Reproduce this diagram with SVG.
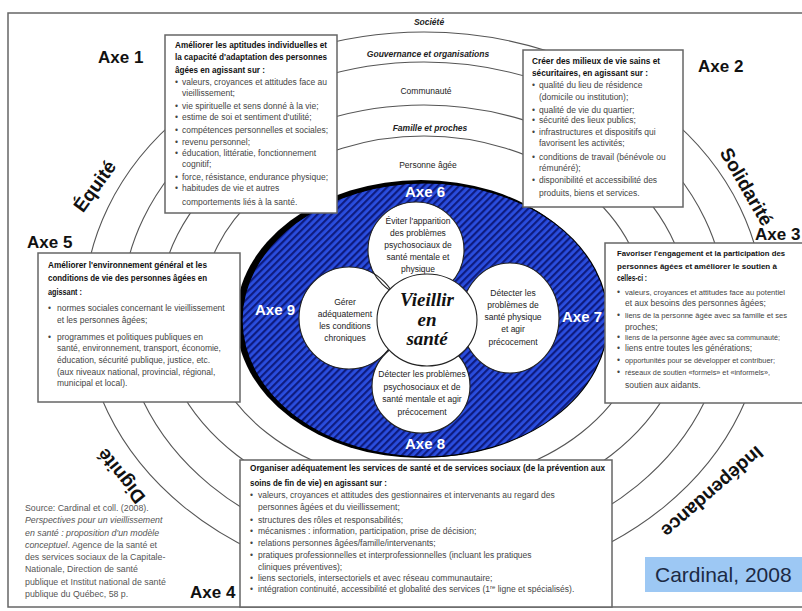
<svg xmlns="http://www.w3.org/2000/svg" width="802" height="611" viewBox="0 0 802 611">
<defs>
<pattern id="hatch" width="5" height="5" patternUnits="userSpaceOnUse" patternTransform="rotate(45)">
<rect width="5" height="5" fill="#2a4ee0"/><rect width="2.2" height="5" fill="#0e1b7e"/>
</pattern>
<style>
.frame{fill:none;stroke:#666;stroke-width:1.5}
.ring{fill:none;stroke:#555;stroke-width:1.1}
.box{fill:#fff;stroke:#666;stroke-width:1.5}
.t{font-family:"Liberation Sans",Arial,sans-serif;font-size:8.5px;fill:#444}
.tb{font-weight:bold;fill:#111}
.sm{font-size:7.5px}
.src{font-family:"Liberation Sans",Arial,sans-serif;font-size:8.8px;fill:#555}
.it{font-style:italic}
.axe{font-family:"Liberation Sans",Arial,sans-serif;font-weight:bold;font-size:17px;fill:#111}
.axew{font-family:"Liberation Sans",Arial,sans-serif;font-weight:bold;font-size:15px;fill:#fff;text-anchor:middle}
.val{font-family:"Liberation Sans",Arial,sans-serif;font-weight:bold;font-size:19px;fill:#111;text-anchor:middle}
.lvl{font-family:"Liberation Sans",Arial,sans-serif;font-size:8.5px;fill:#222;text-anchor:middle}
.ct{font-family:"Liberation Sans",Arial,sans-serif;font-size:8.5px;fill:#222;text-anchor:middle}
.circ{fill:#fff}
.circs{fill:none;stroke:#222;stroke-width:1.1}
</style>
</defs>
<rect width="802" height="611" fill="#fff"/>
<rect class="frame" x="8" y="13" width="810" height="594"/>

<g id="rings">
<ellipse class="ring" cx="424" cy="310" rx="340" ry="278"/>
<ellipse class="ring" cx="424" cy="310" rx="302" ry="248"/>
<ellipse class="ring" cx="424" cy="310" rx="265" ry="205"/>
<ellipse class="ring" cx="424" cy="310" rx="222" ry="174"/>
</g>

<g id="ring-labels">
<text class="lvl" x="429" y="25" font-weight="bold" font-style="italic">Société</text>
<text class="lvl" x="428" y="57" font-weight="bold" font-style="italic">Gouvernance et organisations</text>
<text class="lvl" x="426" y="94" font-size="9">Communauté</text>
<text class="lvl" x="430" y="131" font-weight="bold" font-style="italic">Famille et proches</text>
<text class="lvl" x="428" y="168" font-size="9">Personne âgée</text>
</g>

<g id="values">
<text class="val" transform="translate(100,190) rotate(-54)">Équité</text>
<text class="val" transform="translate(741,190) rotate(60)">Solidarité</text>
<text class="val" transform="translate(126,472) rotate(231)">Dignité</text>
<text class="val" font-size="16.5" transform="translate(708,487) rotate(139)">Indépendance</text>
</g>

<g id="blue-ring">
<ellipse cx="421" cy="319" rx="185" ry="139" fill="#000"/>
<ellipse cx="425" cy="320" rx="183" ry="137" fill="url(#hatch)" stroke="#000" stroke-width="1.2"/>
<text class="axew" x="425" y="197">Axe 6</text>
<text class="axew" x="582" y="322">Axe 7</text>
<text class="axew" x="425" y="449">Axe 8</text>
<text class="axew" x="275" y="315">Axe 9</text>
</g>

<g id="axe-circles">
<ellipse class="circ" cx="416" cy="250" rx="48" ry="48"/>
<ellipse class="circ" cx="349" cy="318" rx="50" ry="51"/>
<ellipse class="circ" cx="510" cy="318" rx="49" ry="55"/>
<ellipse class="circ" cx="421" cy="386" rx="49" ry="47"/>
<ellipse class="circs" cx="416" cy="250" rx="48" ry="48"/>
<ellipse class="circs" cx="349" cy="318" rx="50" ry="51"/>
<ellipse class="circs" cx="510" cy="318" rx="49" ry="55"/>
<ellipse class="circs" cx="421" cy="386" rx="49" ry="47"/>
</g>

<g id="axe6-circle">
<text class="ct" x="418" y="224">Éviter l'apparition</text>
<text class="ct" x="418" y="236">des problèmes</text>
<text class="ct" x="418" y="248">psychosociaux de</text>
<text class="ct" x="418" y="260">santé mentale et</text>
<text class="ct" x="418" y="272">physique</text>
</g>
<g id="axe9-circle">
<text class="ct" x="345" y="305">Gérer</text>
<text class="ct" x="345" y="317">adéquatement</text>
<text class="ct" x="345" y="329">les conditions</text>
<text class="ct" x="345" y="341">chroniques</text>
</g>
<g id="axe7-circle">
<text class="ct" x="513" y="296">Détecter les</text>
<text class="ct" x="513" y="308">problèmes de</text>
<text class="ct" x="513" y="320">santé physique</text>
<text class="ct" x="513" y="332">et agir</text>
<text class="ct" x="513" y="345">précocement</text>
</g>
<g id="axe8-circle">
<text class="ct" x="422" y="377">Détecter les problèmes</text>
<text class="ct" x="422" y="390">psychosociaux et de</text>
<text class="ct" x="422" y="402">santé mentale et agir</text>
<text class="ct" x="422" y="415">précocement</text>
</g>

<g id="center">
<ellipse cx="427" cy="320" rx="50" ry="46" fill="#fff" stroke="#222" stroke-width="1.1"/>
<text x="427" y="306" font-family="'Liberation Serif',serif" font-style="italic" font-weight="bold" font-size="19" text-anchor="middle" fill="#111">Vieillir</text>
<text x="427" y="326" font-family="'Liberation Serif',serif" font-style="italic" font-weight="bold" font-size="19" text-anchor="middle" fill="#111">en</text>
<text x="427" y="345" font-family="'Liberation Serif',serif" font-style="italic" font-weight="bold" font-size="19" text-anchor="middle" fill="#111">santé</text>
</g>

<g id="axe1">
<rect class="box" x="165" y="35" width="172" height="178"/>
<text class="t tb" x="175" y="48" textLength="152" lengthAdjust="spacingAndGlyphs">Améliorer les aptitudes individuelles et</text>
<text class="t tb" x="175" y="60" textLength="152" lengthAdjust="spacingAndGlyphs">la capacité d'adaptation des personnes</text>
<text class="t tb" x="175" y="73" textLength="90" lengthAdjust="spacingAndGlyphs">âgées en agissant sur :</text>
<text class="t" x="175" y="85">•</text><text class="t" x="182" y="85">valeurs, croyances et attitudes face au</text>
<text class="t" x="182" y="96">vieillissement;</text>
<text class="t" x="175" y="109">•</text><text class="t" x="182" y="109">vie spirituelle et sens donné à la vie;</text>
<text class="t" x="175" y="120">•</text><text class="t" x="182" y="120">estime de soi et sentiment d'utilité;</text>
<text class="t" x="175" y="133">•</text><text class="t" x="182" y="133">compétences personnelles et sociales;</text>
<text class="t" x="175" y="145">•</text><text class="t" x="182" y="145">revenu personnel;</text>
<text class="t" x="175" y="156">•</text><text class="t" x="182" y="156">éducation, littératie, fonctionnement</text>
<text class="t" x="182" y="167">cognitif;</text>
<text class="t" x="175" y="180">•</text><text class="t" x="182" y="180">force, résistance, endurance physique;</text>
<text class="t" x="175" y="191">•</text><text class="t" x="182" y="191">habitudes de vie et autres</text>
<text class="t" x="182" y="205">comportements liés à la santé.</text>
</g>

<g id="axe2">
<rect class="box" x="523" y="50" width="160" height="157"/>
<text class="t tb" x="532" y="64" textLength="128" lengthAdjust="spacingAndGlyphs">Créer des milieux de vie sains et</text>
<text class="t tb" x="532" y="76" textLength="116" lengthAdjust="spacingAndGlyphs">sécuritaires, en agissant sur :</text>
<text class="t" x="532" y="88">•</text><text class="t" x="539" y="88">qualité du lieu de résidence</text>
<text class="t" x="539" y="100">(domicile ou institution);</text>
<text class="t" x="532" y="113">•</text><text class="t" x="539" y="113">qualité de vie du quartier;</text>
<text class="t" x="532" y="123">•</text><text class="t" x="539" y="123">sécurité des lieux publics;</text>
<text class="t" x="532" y="135">•</text><text class="t" x="539" y="135">infrastructures et dispositifs qui</text>
<text class="t" x="539" y="146">favorisent les activités;</text>
<text class="t" x="532" y="160">•</text><text class="t" x="539" y="160">conditions de travail (bénévole ou</text>
<text class="t" x="539" y="171">rémunéré);</text>
<text class="t" x="532" y="183">•</text><text class="t" x="539" y="183">disponibilité et accessibilité des</text>
<text class="t" x="539" y="196">produits, biens et services.</text>
</g>

<g id="axe5">
<rect class="box" x="38" y="253" width="202" height="149"/>
<text class="t tb" x="48" y="268" textLength="159" lengthAdjust="spacingAndGlyphs">Améliorer l'environnement général et les</text>
<text class="t tb" x="48" y="281" textLength="159" lengthAdjust="spacingAndGlyphs">conditions de vie des personnes âgées en</text>
<text class="t tb" x="48" y="295" textLength="34" lengthAdjust="spacingAndGlyphs">agissant :</text>
<text class="t" x="48" y="311">•</text><text class="t" x="57" y="311">normes sociales concernant le vieillissement</text>
<text class="t" x="57" y="323">et les personnes âgées;</text>
<text class="t" x="48" y="340">•</text><text class="t" x="57" y="340">programmes et politiques publiques en</text>
<text class="t" x="57" y="351">santé, environnement, transport, économie,</text>
<text class="t" x="57" y="363">éducation, sécurité publique, justice, etc.</text>
<text class="t" x="57" y="375">(aux niveaux national, provincial, régional,</text>
<text class="t" x="57" y="386">municipal et local).</text>
</g>

<g id="axe3">
<rect class="box" x="605" y="243" width="210" height="160"/>
<text class="t tb sm" x="617" y="256" textLength="168" lengthAdjust="spacingAndGlyphs">Favoriser l'engagement et la participation des</text>
<text class="t tb sm" x="617" y="269" textLength="160" lengthAdjust="spacingAndGlyphs">personnes âgées et améliorer le soutien à</text>
<text class="t tb" x="617" y="281" textLength="30" lengthAdjust="spacingAndGlyphs">celles-ci :</text>
<text class="t" x="617" y="295">•</text><text class="t sm" x="625" y="295" textLength="160" lengthAdjust="spacingAndGlyphs">valeurs, croyances et attitudes face au potentiel</text>
<text class="t" x="625" y="306">et aux besoins des personnes âgées;</text>
<text class="t" x="617" y="318">•</text><text class="t sm" x="625" y="318" textLength="162" lengthAdjust="spacingAndGlyphs">liens de la personne âgée avec sa famille et ses</text>
<text class="t" x="625" y="330">proches;</text>
<text class="t" x="617" y="340">•</text><text class="t sm" x="625" y="340" textLength="155" lengthAdjust="spacingAndGlyphs">liens de la personne âgée avec sa communauté;</text>
<text class="t" x="617" y="351">•</text><text class="t" x="625" y="351">liens entre toutes les générations;</text>
<text class="t" x="617" y="363">•</text><text class="t sm" x="625" y="363" textLength="150" lengthAdjust="spacingAndGlyphs">opportunités pour se développer et contribuer;</text>
<text class="t" x="617" y="375">•</text><text class="t sm" x="625" y="375" textLength="145" lengthAdjust="spacingAndGlyphs">réseaux de soutien «formels» et «informels»,</text>
<text class="t" x="625" y="388">soutien aux aidants.</text>
</g>

<g id="axe4">
<rect class="box" x="240" y="460" width="372" height="147"/>
<text class="t tb" x="250" y="471" textLength="355" lengthAdjust="spacingAndGlyphs">Organiser adéquatement les services de santé et de services sociaux (de la prévention aux</text>
<text class="t tb" x="250" y="486" textLength="137" lengthAdjust="spacingAndGlyphs">soins de fin de vie) en agissant sur :</text>
<text class="t" x="250" y="498">•</text><text class="t" x="258" y="498">valeurs, croyances et attitudes des gestionnaires et intervenants au regard des</text>
<text class="t" x="258" y="510">personnes âgées et du vieillissement;</text>
<text class="t" x="250" y="523">•</text><text class="t" x="258" y="523">structures des rôles et responsabilités;</text>
<text class="t" x="250" y="534">•</text><text class="t" x="258" y="534">mécanismes : information, participation, prise de décision;</text>
<text class="t" x="250" y="546">•</text><text class="t" x="258" y="546">relations personnes âgées/famille/intervenants;</text>
<text class="t" x="250" y="558">•</text><text class="t" x="258" y="558">pratiques professionnelles et interprofessionnelles (incluant les pratiques</text>
<text class="t" x="258" y="570">cliniques préventives);</text>
<text class="t" x="250" y="581">•</text><text class="t" x="258" y="581">liens sectoriels, intersectoriels et avec réseau communautaire;</text>
<text class="t" x="250" y="592">•</text><text class="t" x="258" y="592">intégration continuité, accessibilité et globalité des services (1<tspan font-size="6" baseline-shift="super">re</tspan> ligne et spécialisés).</text>
</g>

<g id="axe-labels">
<text class="axe" x="98" y="63">Axe 1</text>
<text class="axe" x="698" y="72">Axe 2</text>
<text class="axe" x="755" y="240">Axe 3</text>
<text class="axe" x="190" y="598">Axe 4</text>
<text class="axe" x="27" y="248">Axe 5</text>
</g>

<g id="source">
<text class="src" x="25" y="511">Source: Cardinal et coll. (2008).</text>
<text class="src it" x="25" y="523">Perspectives pour un vieillissement</text>
<text class="src it" x="25" y="536">en santé : proposition d'un modèle</text>
<text class="src" x="25" y="548"><tspan class="it">conceptuel</tspan>. Agence de la santé et</text>
<text class="src" x="25" y="560">des services sociaux de la Capitale-</text>
<text class="src" x="25" y="572">Nationale, Direction de santé</text>
<text class="src" x="25" y="585">publique et Institut national de santé</text>
<text class="src" x="25" y="597">publique du Québec, 58 p.</text>
</g>

<g id="cardinal">
<rect x="645" y="557" width="160" height="35" fill="#9dc8f4"/>
<text x="655" y="582" font-family="'Liberation Sans',Arial,sans-serif" font-size="21" fill="#1c2a44">Cardinal, 2008</text>
</g>
<g id="connectors"/>
</svg>
